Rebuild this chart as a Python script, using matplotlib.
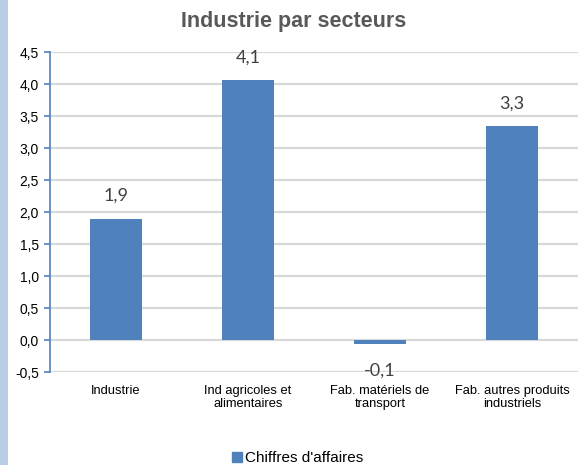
import matplotlib
matplotlib.use("Agg")
import matplotlib.pyplot as plt
from matplotlib.patches import Rectangle
from matplotlib.lines import Line2D
from matplotlib.ticker import FuncFormatter

categories = ["Industrie", "Ind agricoles et\nalimentaires", "Fab. matériels de\ntransport",
              "Fab. autres produits\nindustriels"]
values = [1.89, 4.06, -0.06, 3.34]
series_name = "Chiffres d'affaires"
yticks = [-0.5, 0.0, 0.5, 1.0, 1.5, 2.0, 2.5, 3.0, 3.5, 4.0, 4.5]

bar_color = "#4F81BD"
grid_color = "#D9D9D9"

fig = plt.figure(figsize=(5.78, 4.65), dpi=100)
fig.patch.set_facecolor("white")
fig.add_artist(Rectangle((0, 0), 8 / 578, 1, transform=fig.transFigure,
                         facecolor="#B9CDE5", edgecolor="none"))

ax = fig.add_axes([50 / 578, 1 - 372 / 465, 1 - 50 / 578, 320 / 465])
x = list(range(len(categories)))
ax.bar(x, values, width=0.4, color=bar_color, zorder=3)
ax.set_xlim(-0.5, len(categories) - 0.5)
ax.set_ylim(-0.5, 4.5)
ax.set_yticks(yticks)
ax.yaxis.set_major_formatter(FuncFormatter(lambda v, p: f"{v:.1f}".replace(".", ",")))
ax.grid(axis="y", color=grid_color, linewidth=1.6, zorder=0)
ax.set_xticks(x)
ax.set_xticklabels(categories, fontsize=9.3, family="Liberation Sans", color="#000000",
                   multialignment="center", linespacing=1.2)
ax.tick_params(axis="x", length=0, pad=9)
ax.tick_params(axis="y", length=4, width=1.2, color=bar_color, labelsize=10, pad=4)
for lbl in ax.get_yticklabels():
    lbl.set_family("Liberation Sans")
for s in ["top", "right", "bottom"]:
    ax.spines[s].set_visible(False)
ax.spines["left"].set_color(bar_color)
ax.spines["left"].set_linewidth(1.2)

for xi, v in zip(x, values):
    txt = f"{v:.1f}".replace(".", ",")
    dy = 16.5 if v >= 0 else -19
    ax.annotate(txt, (xi, v), xytext=(0, dy), textcoords="offset points",
                ha="center", va="center", fontsize=13, family="Lato", color="#404040")

fig.text(294 / 578, 1 - 22 / 465, "Industrie par secteurs", ha="center", va="center",
         fontsize=15.5, fontweight="bold", family="Liberation Sans", color="#595959")

handle = Line2D([], [], marker="s", linestyle="none", markersize=7,
                markerfacecolor=bar_color, markeredgecolor=bar_color)
fig.legend([handle], [series_name], loc="center", bbox_to_anchor=(296 / 578, 1 - 458 / 465),
           frameon=False, prop={"family": "Liberation Sans", "size": 11},
           handletextpad=0.0, handlelength=1.0)

fig.savefig("out.png", dpi=100)
